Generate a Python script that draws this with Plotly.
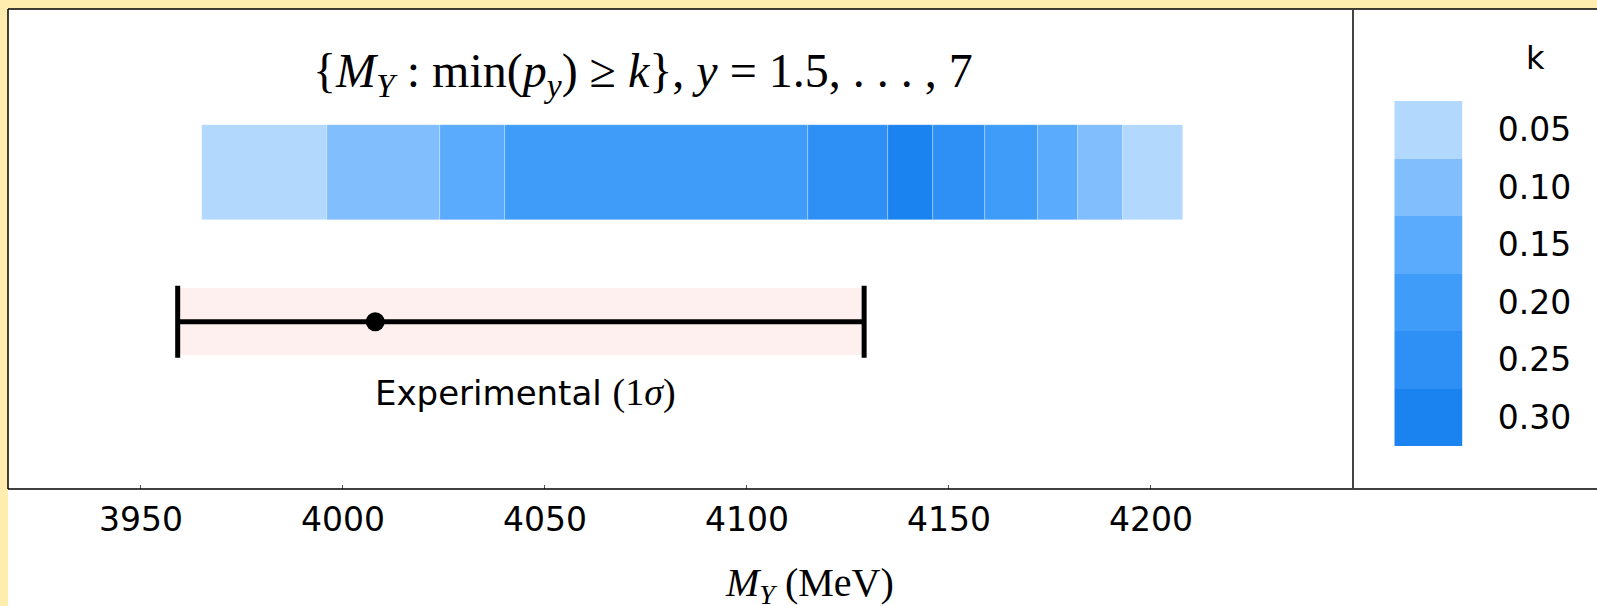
import plotly.graph_objects as go

# ---------------- data ----------------
band_edges = [3965, 3996, 4024, 4040, 4115, 4135, 4146, 4159, 4172, 4182, 4193, 4208]
band_k = [0.05, 0.10, 0.15, 0.20, 0.25, 0.30, 0.25, 0.20, 0.15, 0.10, 0.05]
k_levels = [0.05, 0.10, 0.15, 0.20, 0.25, 0.30]
k_colors = ["#B3D8FD", "#80BEFD", "#5AAAFD", "#3F9CF8", "#2E90F5", "#1B83EF"]
k_labels = ["0.05", "0.10", "0.15", "0.20", "0.25", "0.30"]
exp_center = 4008.0
exp_lo = 3959.1
exp_hi = 4129.0
x_ticks = [3950, 4000, 4050, 4100, 4150, 4200]

# ---------------- geometry ----------------
W, H = 1597, 606
ML, MR, MT, MB = 8, 0, 9, 117
PW, PH = W - ML - MR, H - MT - MB
main_right_px = 1353
BG = "#FFEDB0"


def px(x):
    return (x - ML) / PW


def py(y):
    return (H - MB - y) / PH


band_y = py(172.5)
band_h = 95 / PH
exp_y = py(321.7)
pink_h = 67 / PH

color_of = dict(zip(k_levels, k_colors))

fig = go.Figure()

# pink 1-sigma band
fig.add_trace(go.Bar(
    orientation="h", y=[exp_y], base=[exp_lo], x=[exp_hi - exp_lo], width=pink_h,
    marker=dict(color="#FFF0F0", line=dict(width=0)), hoverinfo="skip", showlegend=False,
))

# model band segments
fig.add_trace(go.Bar(
    orientation="h",
    y=[band_y] * len(band_k),
    base=band_edges[:-1],
    x=[b - a for a, b in zip(band_edges[:-1], band_edges[1:])],
    width=band_h,
    marker=dict(color=[color_of[k] for k in band_k],
                line=dict(width=0.6, color="rgba(255,255,255,0.45)")),
    showlegend=False,
))

# experimental point with asymmetric error
fig.add_trace(go.Scatter(
    x=[exp_center], y=[exp_y], mode="markers",
    marker=dict(color="black", size=19),
    error_x=dict(type="data", symmetric=False,
                 array=[exp_hi - exp_center], arrayminus=[exp_center - exp_lo],
                 thickness=5, width=36, color="black"),
    showlegend=False,
))

# colour key as heatmap
n = len(k_levels)
cs = []
for i, c in enumerate(k_colors):
    cs.append([i / n, c])
    cs.append([(i + 1) / n, c])
fig.add_trace(go.Heatmap(
    z=[[k] for k in reversed(k_levels)],
    x=[0], y=list(range(n)),
    colorscale=cs, zmin=k_levels[0] - 0.025, zmax=k_levels[-1] + 0.025,
    showscale=False, xaxis="x2", yaxis="y2", hoverinfo="skip",
))

fig.update_layout(
    width=W, height=H,
    margin=dict(l=ML, r=MR, t=MT, b=MB, pad=0),
    paper_bgcolor=BG,
    plot_bgcolor="white",
    barmode="overlay",
    bargap=0,
    xaxis=dict(
        domain=[0, px(main_right_px)], range=[3917.1, 4250.0],
        tickvals=x_ticks, ticktext=[str(t) for t in x_ticks],
        ticks="inside", ticklen=4, tickcolor="#555", tickwidth=1,
        showgrid=False, zeroline=False, showline=False,
        tickfont=dict(family="DejaVu Sans", size=33, color="black"),
        ticklabelstandoff=8,
    ),
    yaxis=dict(domain=[0, 1], range=[0, 1], visible=False, showgrid=False),
    xaxis2=dict(domain=[px(1394.3), px(1462.7)], range=[-0.5, 0.5], visible=False,
                anchor="y2"),
    yaxis2=dict(domain=[py(446), py(101)], range=[-0.5, n - 0.5], anchor="x2",
                side="right", showgrid=False, zeroline=False, showline=False,
                tickvals=list(range(n)), ticktext=list(reversed(k_labels)),
                ticks="", ticklabelstandoff=34,
                tickfont=dict(family="DejaVu Sans", size=33, color="black")),
    shapes=[
        dict(type="rect", xref="paper", yref="paper", x0=0, x1=1.01, y0=-0.3, y1=1,
             fillcolor="white", line=dict(width=0), layer="below"),
        dict(type="line", xref="paper", yref="paper", x0=0, x1=1.01, y0=1, y1=1,
             line=dict(color="black", width=1.5)),
        dict(type="line", xref="paper", yref="paper", x0=0, x1=1.01, y0=0, y1=0,
             line=dict(color="black", width=1.5)),
        dict(type="line", xref="paper", yref="paper", x0=0, x1=0, y0=0, y1=1,
             line=dict(color="black", width=1.5)),
        dict(type="line", xref="paper", yref="paper", x0=px(main_right_px), x1=px(main_right_px),
             y0=0, y1=1, line=dict(color="#444", width=2)),
    ],
    annotations=[
        dict(xref="paper", yref="paper", x=px(643), y=py(74), showarrow=False,
             xanchor="center", yanchor="middle",
             text="{<i>M<sub>Y</sub></i> : min(<i>p<sub>y</sub></i>) ≥ <i>k</i>}, <i>y</i> = 1.5, . . . , 7",
             font=dict(family="Liberation Serif", size=48, color="black")),
        dict(xref="paper", yref="paper", x=px(525), y=py(392), showarrow=False,
             xanchor="center", yanchor="middle",
             text="Experimental <span style='font-family:Liberation Serif;font-size:38px'>(1<i>σ</i>)</span>",
             font=dict(family="DejaVu Sans", size=34, color="black")),
        dict(xref="paper", yref="paper", x=px(809), y=py(585), showarrow=False,
             xanchor="center", yanchor="middle",
             text="<i>M<sub>Y</sub></i> (MeV)",
             font=dict(family="Liberation Serif", size=40, color="black")),
        dict(xref="paper", yref="paper", x=px(1535), y=py(58), showarrow=False,
             xanchor="center", yanchor="middle", text="k",
             font=dict(family="DejaVu Sans", size=32, color="black")),
    ],
)

fig.write_html(
    "out.html",
    config={"displayModeBar": False},
    post_script=f"document.body.style.margin='0px';document.body.style.background='{BG}';",
)
